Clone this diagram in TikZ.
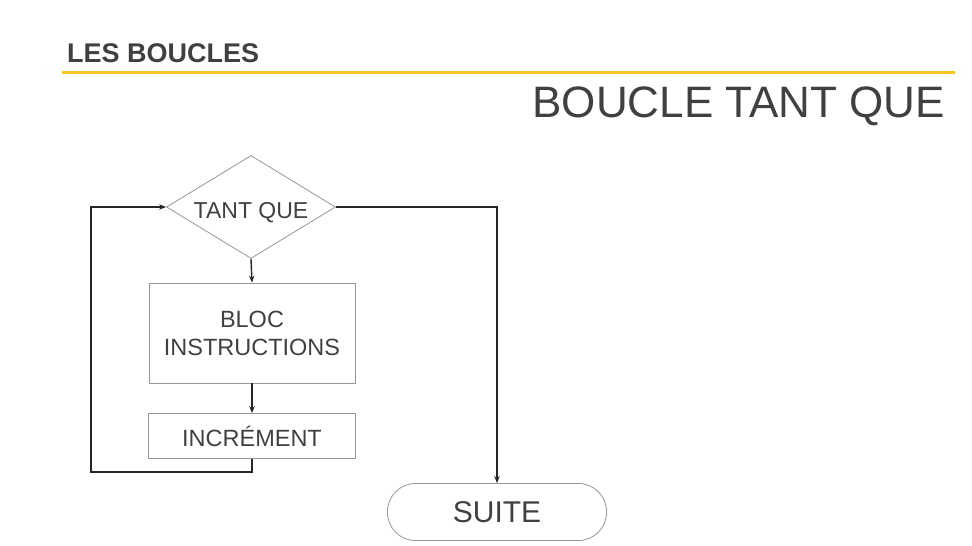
\documentclass[tikz,border=0pt]{standalone}
\usepackage{fontspec}
\setmainfont{Liberation Sans}
\usetikzlibrary{shapes.geometric,arrows.meta}
\definecolor{txtgray}{RGB}{64,64,64}
\definecolor{boxgray}{RGB}{150,150,150}
\definecolor{bandyellow}{RGB}{246,196,36}

\begin{document}
\begin{tikzpicture}[x=1pt,y=-1pt,
    box/.style={draw=boxgray,line width=0.8pt,text=txtgray,inner sep=0pt,
      font=\fontsize{23.5}{28}\selectfont,align=center},
    flow/.style={line width=1.4pt,color=black!85,-{Stealth[length=7pt,width=5.5pt]}}]
    \useasboundingbox (0,0) rectangle (972,546);
    % Header
    \node[anchor=base west,inner sep=0pt,text=txtgray,font=\fontsize{27}{30}\selectfont\bfseries]
      (hdr) at (67,62) {LES BOUCLES};
    \draw[bandyellow,line width=3pt] (62,72) -- (955,72);
    \node[anchor=base east,inner sep=0pt,text=txtgray,font=\fontsize{44}{48}\selectfont]
      (title) at (945,117) {BOUCLE TANT QUE};
    % Flowchart
    \node[box,diamond,shape aspect=1.64,minimum width=169pt,minimum height=103pt,
      text height=22pt,text depth=0pt,font=\fontsize{23}{28}\selectfont] (tq) at (251,207) {TANT QUE};
    \node[box,minimum width=206pt,minimum height=100pt] (bloc) at (252,333) {BLOC\\INSTRUCTIONS};
    \node[box,minimum width=207pt,minimum height=45pt] (incr) at (252,436) {INCRÉMENT};
    \node[box,rounded corners=28pt,minimum width=219pt,minimum height=57pt,
      font=\fontsize{30}{34}\selectfont] (suite) at (497,512) {SUITE};
    \coordinate (loop) at (91,472);
    % Arrows
    \draw[flow] (tq.south) -- (bloc.north);
    \draw[flow] (bloc.south) -- (incr.north);
    \draw[flow] (incr.south) |- (loop) |- (tq.west);
    \draw[flow] (tq.east) -| (suite.north);
\end{tikzpicture}
\end{document}
